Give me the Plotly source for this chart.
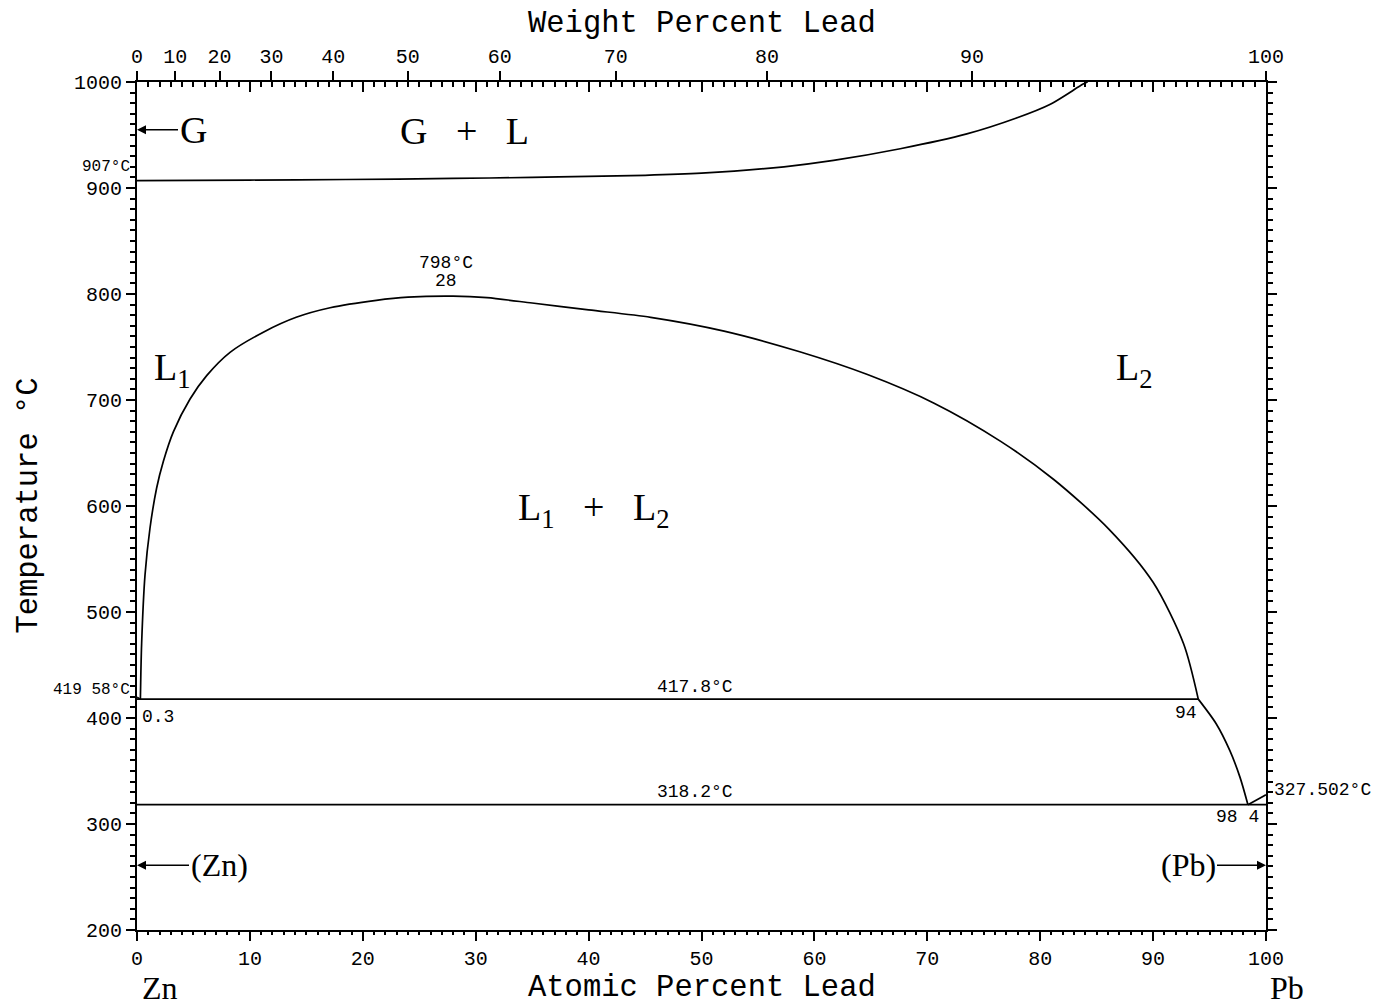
import plotly.graph_objects as go

# ---------------- data (atomic % Pb, temperature °C) ----------------
gas_x = [0, 10, 18.5, 28, 35, 40, 45, 50, 57.3, 61.7, 67.6, 73.5, 77.9, 80.9, 83.8, 84.2]
gas_t = [907, 907.5, 908, 909, 910, 911, 912, 914, 920, 926, 937, 951, 966, 979, 998, 1000]

gap_x = [0.3, 0.41, 0.71, 1.15, 1.74, 2.33, 3.22, 4.7, 6.17, 8.24, 11.19, 14.1, 17.1,
         21.2, 24, 28, 31, 35, 40, 45.5, 52, 58.7, 64.7, 70.6, 76.5, 81.2, 86.1,
         90.0, 92.7, 94]
gap_t = [417.8, 470, 535, 579, 617, 642, 670, 701, 723, 745, 764, 778, 787,
         794, 797, 798, 796.5, 791.5, 785, 778, 765, 745.5, 724, 697, 661, 625, 578,
         528, 470, 417.8]

liq_x = [94, 95.6, 96.8, 97.7, 98.4]
liq_t = [417.8, 394.4, 369.2, 344, 318.2]

pb_x = [98.4, 100]
pb_t = [318.2, 327.502]

zn_x = [0, 0.3]
zn_t = [419.58, 417.8]

mono_x = [0, 94]
mono_t = [417.8, 417.8]

eut_x = [0, 100]
eut_t = [318.2, 318.2]

wt_ticks = [0, 10, 20, 30, 40, 50, 60, 70, 80, 90, 100]
M_PB, M_ZN = 207.2, 65.38


def wt_to_at(w):
    a = w / M_PB
    b = (100 - w) / M_ZN
    return 100 * a / (a + b)


wt_pos = [wt_to_at(w) for w in wt_ticks]

line = dict(color="black", width=1.7)
fig = go.Figure()
for xs, ts, xa, shp in [(gas_x, gas_t, "x2", "spline"), (gap_x, gap_t, "x", "spline"),
                        (liq_x, liq_t, "x", "spline"), (pb_x, pb_t, "x", "linear"),
                        (zn_x, zn_t, "x", "linear"), (mono_x, mono_t, "x", "linear"),
                        (eut_x, eut_t, "x3", "linear")]:
    fig.add_trace(go.Scatter(x=xs, y=ts, mode="lines",
                             line=dict(line, shape=shp, smoothing=0.8), xaxis=xa,
                             showlegend=False, hoverinfo="skip"))

tickfont = dict(family="Liberation Mono", size=20, color="black")
small = dict(family="Liberation Mono", size=18, color="black")
smaller = dict(family="Liberation Mono", size=16, color="black")
phase = dict(family="Liberation Serif", size=38, color="black")
phase2 = dict(family="Liberation Serif", size=32, color="black")
title_font = dict(family="Liberation Mono", size=30.5, color="black")

fig.update_layout(
    width=1379, height=997,
    margin=dict(l=129, r=121, t=74, b=75),
    paper_bgcolor="white", plot_bgcolor="white",
    xaxis=dict(range=[0, 100], showgrid=False, zeroline=False, showline=True,
               linecolor="black", linewidth=2, ticks="outside", ticklen=9,
               tickwidth=1.5, tickcolor="black", dtick=10, tick0=0,
               minor=dict(dtick=1, ticks="outside", ticklen=3, tickwidth=1.5, tickcolor="black"),
               tickfont=tickfont),
    xaxis2=dict(range=[0, 100], overlaying="x", side="top", anchor="y",
                showgrid=False, zeroline=False, showline=True, linecolor="black",
                linewidth=2, ticks="outside", ticklen=9, tickwidth=1.5,
                tickcolor="black", tickmode="array", tickvals=wt_pos,
                ticktext=[str(w) for w in wt_ticks], tickfont=tickfont),
    xaxis3=dict(range=[0, 100], overlaying="x", side="top", anchor="y",
                showgrid=False, zeroline=False, showline=False, ticks="inside",
                ticklen=10, tickwidth=1.5, tickcolor="black", dtick=10, tick0=0,
                showticklabels=False,
                minor=dict(dtick=1, ticks="inside", ticklen=5, tickwidth=1.5, tickcolor="black")),
    yaxis=dict(range=[200, 1000], showgrid=False, zeroline=False, showline=True,
               linecolor="black", linewidth=2, mirror="ticks", ticks="outside",
               ticklen=9, tickwidth=1.5, tickcolor="black", dtick=100, tick0=200,
               minor=dict(dtick=10, ticks="outside", ticklen=5, tickwidth=1.5, tickcolor="black"),
               tickfont=tickfont),
)

ann = []


def txt(x, y, s, font, xanchor="center", yanchor="middle", **kw):
    ann.append(dict(x=x, y=y, xref="x", yref="y", text=s, showarrow=False,
                    font=font, xanchor=xanchor, yanchor=yanchor, **kw))


sub = "<sub>%s</sub>"
nb = "\u00a0"
txt(29, 954, "G" + nb * 3 + "+" + nb * 3 + "L", phase)
txt(1.3, 728, "L" + sub % "1", phase, xanchor="left")
txt(86.5, 728, "L" + sub % "2", phase, xanchor="left")
txt(40.4, 596, "L" + sub % "1" + nb * 3 + "+" + nb * 3 + "L" + sub % "2", phase)

txt(27.4, 829, "798°C", small)
txt(27.4, 812, "28", small)
txt(49.4, 429, "417.8°C", small)
txt(49.4, 330, "318.2°C", small)
txt(92.9, 405, "94", small)
txt(97.5, 306.5, "98 4", small)
txt(100, 332, "327.502°C", small, xanchor="left", xshift=6)
txt(0.3, 401, "0.3", small, xanchor="left")
txt(0, 920, "907°C", smaller, xanchor="right", xshift=-5)
txt(0, 426, "419 58°C", smaller, xanchor="right", xshift=-5)

# arrows to pure-element phases
arrow = dict(showarrow=True, arrowhead=2, arrowsize=1.2, arrowwidth=1.5,
             arrowcolor="black", xref="x", yref="y")
ann.append(dict(x=0, y=955, text="G", ax=56, ay=0, font=phase, **arrow))
ann.append(dict(x=0, y=261, text="(Zn)", ax=82, ay=0, font=phase2, **arrow))
ann.append(dict(x=100, y=261, text="(Pb)", ax=-78, ay=0, font=phase2, **arrow))

# axis titles and element names
ann.append(dict(x=0.5, y=-0.068, xref="paper", yref="paper", text="Atomic Percent Lead",
                showarrow=False, font=title_font, xanchor="center", yanchor="middle"))
ann.append(dict(x=0.5, y=1.068, xref="paper", yref="paper", text="Weight Percent Lead",
                showarrow=False, font=title_font, xanchor="center", yanchor="middle"))
ann.append(dict(x=-0.096, y=0.5, xref="paper", yref="paper", text="Temperature °C",
                showarrow=False, font=title_font, textangle=-90, xanchor="center", yanchor="middle"))
ann.append(dict(x=0.0204, y=-0.068, xref="paper", yref="paper", text="Zn",
                showarrow=False, font=phase2, xanchor="center", yanchor="middle"))
ann.append(dict(x=1.0186, y=-0.068, xref="paper", yref="paper", text="Pb",
                showarrow=False, font=phase2, xanchor="center", yanchor="middle"))

fig.update_layout(annotations=ann)
fig.write_html("out.html")
